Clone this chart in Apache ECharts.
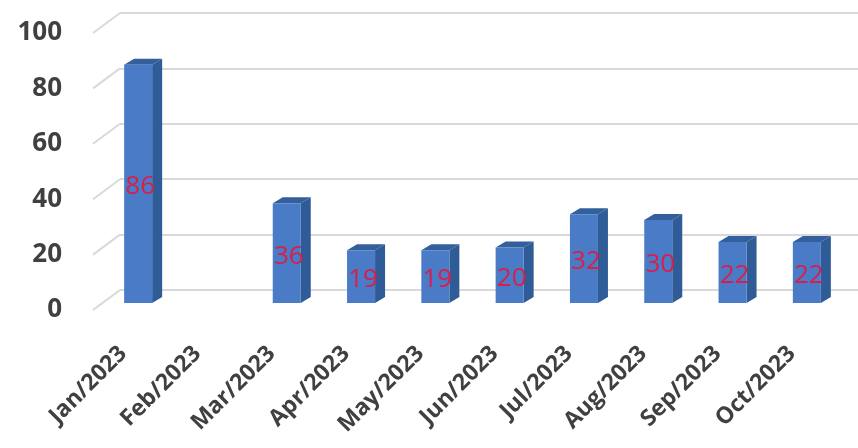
<!DOCTYPE html>
<html><head><meta charset="utf-8">
<script src="https://cdn.jsdelivr.net/npm/echarts@6/dist/echarts.min.js"></script>
<style>html,body{margin:0;padding:0;background:#fff}#c{width:858px;height:448px}</style>
</head><body><div id="c"></div>
<script>
const categories = ['Jan/2023','Feb/2023','Mar/2023','Apr/2023','May/2023','Jun/2023','Jul/2023','Aug/2023','Sep/2023','Oct/2023'];
const values = [86, null, 36, 19, 19, 20, 32, 30, 22, 22];
const yTicks = [0, 20, 40, 60, 80, 100];

const DX = 10, DY = -6;           // bar depth
const WALL_DX = 27, WALL_DY = -20; // back wall offset from front plane
const FONT = '"Open Sans", sans-serif';

const chart = echarts.init(document.getElementById('c'), null, {renderer: 'canvas'});

function renderBar(params, api) {
  const v = api.value(1);
  if (v == null || isNaN(v)) return null;
  const base = api.coord([api.value(0), 0]);
  const top = api.coord([api.value(0), v]);
  const w = api.size([1, 0])[0] * 0.377;
  const x0 = base[0] - w / 2, x1 = base[0] + w / 2;
  const yb = base[1], yt = top[1];
  return {
    type: 'group',
    children: [
      {type: 'polygon', shape: {points: [[x1, yb], [x1 + DX, yb + DY], [x1 + DX, yt + DY], [x1, yt]]},
       style: {fill: '#2f5b96'}},
      {type: 'polygon', shape: {points: [[x0, yt], [x1, yt], [x1 + DX, yt + DY], [x0 + DX, yt + DY]]},
       style: {fill: '#335f9c'}},
      {type: 'rect', shape: {x: x0, y: yt, width: w, height: yb - yt},
       style: {fill: '#4a7bc6'}},
      {type: 'text', x: base[0] + 2, y: (yt + yb) / 2 + 3,
       style: {text: String(v), fill: '#d81f4c', font: '26px ' + FONT, align: 'center', verticalAlign: 'middle'}}
    ]
  };
}

function renderDiag(params, api) {
  const cs = params.coordSys;
  const p = api.coord([categories[0], api.value(1)]);
  const bx = cs.x, by = p[1];
  return {type: 'line', shape: {x1: bx, y1: by, x2: bx - WALL_DX, y2: by - WALL_DY},
          style: {stroke: '#d9d9d9', lineWidth: 2}};
}

chart.setOption({
  animation: false,
  backgroundColor: '#ffffff',
  grid: [
    {left: 120, right: 0, top: 13, height: 277},   // back wall
    {left: 101, width: 743, top: 26, height: 277},  // bars
    {left: 86, width: 743, top: 33, height: 277}    // front plane labels
  ],
  xAxis: [
    {type: 'category', gridIndex: 0, data: categories, show: false},
    {type: 'category', gridIndex: 1, data: categories, show: false},
    {type: 'category', gridIndex: 2, data: categories,
     axisLine: {show: false}, axisTick: {show: false},
     axisLabel: {rotate: 45, margin: 40, interval: 0, color: '#404040', fontFamily: FONT, fontWeight: 'bold', fontSize: 23}}
  ],
  yAxis: [
    {type: 'value', gridIndex: 0, min: 0, max: 100, interval: 20,
     axisLabel: {show: false}, axisLine: {show: false}, axisTick: {show: false},
     splitLine: {lineStyle: {color: '#d9d9d9', width: 2}}},
    {type: 'value', gridIndex: 1, min: 0, max: 100, interval: 20, show: false, splitLine: {show: false}},
    {type: 'value', gridIndex: 2, min: 0, max: 100, interval: 20,
     axisLine: {show: false}, axisTick: {show: false}, splitLine: {show: false},
     axisLabel: {margin: 24, color: '#404040', fontFamily: FONT, fontWeight: 'bold', fontSize: 26,
       formatter: v => yTicks.includes(v) ? String(v) : ''}}
  ],
  series: [
    {type: 'custom', xAxisIndex: 0, yAxisIndex: 0, renderItem: renderDiag,
     data: yTicks.map(t => [categories[0], t]), silent: true, z: 1},
    {type: 'custom', xAxisIndex: 1, yAxisIndex: 1, renderItem: renderBar,
     data: categories.map((c, i) => [c, values[i]]), z: 5}
  ]
});
</script></body></html>
